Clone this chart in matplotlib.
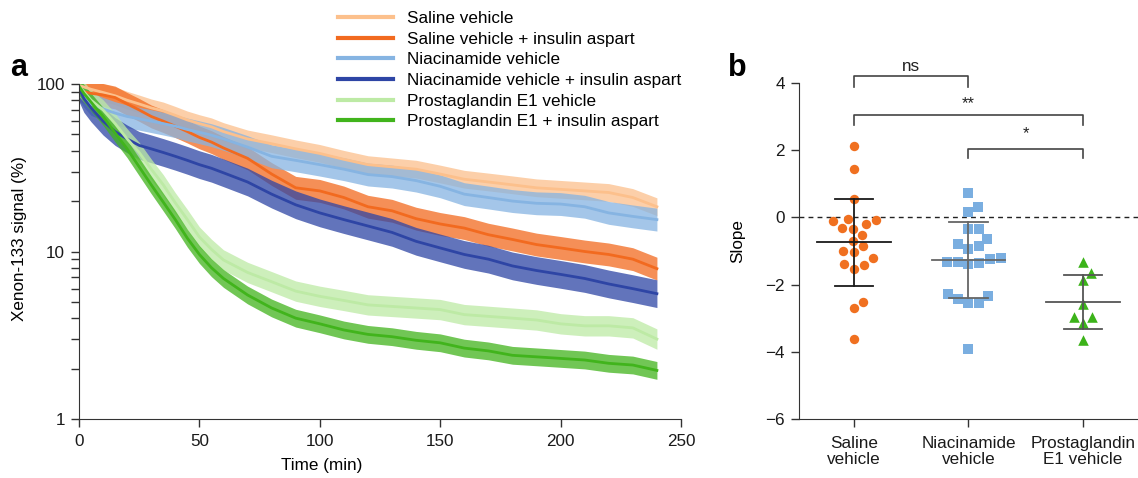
import numpy as np
import matplotlib.pyplot as plt
from matplotlib.lines import Line2D
from matplotlib.ticker import FixedLocator, NullFormatter

plt.rcParams['font.family'] = ['Liberation Sans', 'DejaVu Sans']
plt.rcParams['font.size'] = 12.3
plt.rcParams['axes.edgecolor'] = '#333333'
plt.rcParams['xtick.color'] = '#333333'
plt.rcParams['ytick.color'] = '#333333'
plt.rcParams['xtick.labelcolor'] = '#1a1a1a'
plt.rcParams['ytick.labelcolor'] = '#1a1a1a'

# ---- panel a: xenon-133 washout curves ----
TIME = [0, 2, 5, 10, 15, 20, 25, 30, 35, 40, 45, 50, 55, 60, 70, 80, 90, 100,
        110, 120, 130, 140, 150, 160, 170, 180, 190, 200, 210, 220, 230, 240]

saline_vehicle = [98, 96, 93, 89, 85, 80, 76, 72, 69, 65, 61, 58, 55.5, 52, 47, 44,
                  41, 38.5, 35.5, 33, 32, 31, 29, 27, 26, 25, 24, 23.5, 23, 22.5, 21, 18.5]
saline_insulin = [92, 90, 88, 86, 83, 76, 70, 64, 60, 56, 52, 48, 45, 41.5, 36, 29,
                  24, 23, 21, 18.5, 17.5, 15.7, 14.6, 13.8, 12.6, 11.8, 11, 10.5, 10, 9.6, 9.0, 7.9]
niacin_vehicle = [93, 85, 76, 71, 67, 64, 62, 60, 58, 56, 53.5, 51.5, 49.5, 47, 42, 37,
                  35, 33, 31, 28.8, 28, 26.5, 24.5, 22, 21, 20, 19.4, 19.2, 18.5, 17, 16.2, 15.5]
niacin_insulin = [95, 82, 72, 60, 52, 47, 43, 41, 39, 37, 35, 33, 31.4, 29.5, 26, 22,
                  19, 17, 15.5, 14.2, 13, 11.5, 10.5, 9.6, 9, 8.2, 7.7, 7.3, 6.9, 6.4, 6.0, 5.6]
pge1_vehicle = [97, 90, 80, 70, 58, 47, 39, 31, 25, 19.5, 15.5, 12.2, 10.3, 8.9, 7.5, 6.6,
                5.8, 5.4, 5.1, 4.8, 4.7, 4.6, 4.5, 4.2, 4.1, 4.0, 3.9, 3.7, 3.6, 3.6, 3.5, 3.0]
pge1_insulin = [97, 88, 78, 64, 51, 41, 32, 25, 19.7, 15.5, 12, 9.6, 8.0, 6.9, 5.5, 4.6,
                4.0, 3.7, 3.4, 3.2, 3.1, 2.95, 2.85, 2.65, 2.55, 2.4, 2.35, 2.3, 2.25, 2.15, 2.1, 1.95]

# multiplicative half-width of the shaded error band of each curve
band_factor = [1.13, 1.17, 1.17, 1.21, 1.15, 1.13]

curve_labels = ['Saline vehicle', 'Saline vehicle + insulin aspart', 'Niacinamide vehicle',
                'Niacinamide vehicle + insulin aspart', 'Prostaglandin E1 vehicle',
                'Prostaglandin E1 + insulin aspart']
curve_colors = ['#fcc08c', '#f26a1f', '#86b4e2', '#2e45a5', '#bdeaa5', '#41b41c']

# ---- panel b: slopes per animal ----
groups = ['Saline\nvehicle', 'Niacinamide\nvehicle', 'Prostaglandin\nE1 vehicle']
slope_saline = [2.12, 1.43, 0.54, -0.08, -0.20, -0.34, -0.31, -0.12, -0.04, -0.51, -0.69,
                -0.84, -1.00, -1.04, -1.21, -1.38, -1.41, -1.53, -2.51, -2.70, -3.62]
slope_niacin = [0.74, 0.31, 0.15, -0.35, -0.34, -0.63, -0.86, -0.93, -0.80, -1.25, -1.33,
                -1.39, -1.37, -1.34, -1.22, -2.34, -2.29, -2.44, -2.56, -2.56, -3.93]
slope_pge1 = [-1.34, -1.64, -1.87, -2.59, -2.96, -2.96, -3.14, -3.65]

W, H = 1138, 478
fig = plt.figure(figsize=(W / 100, H / 100), dpi=100)

# panel a
axa = fig.add_axes([79 / W, 1 - 419 / H, 602 / W, 335 / H])
series = [saline_vehicle, saline_insulin, niacin_vehicle, niacin_insulin, pge1_vehicle, pge1_insulin]
for vals, fac, col in zip(series, band_factor, curve_colors):
    v = np.array(vals, dtype=float)
    axa.fill_between(TIME, v / fac, v * fac, color=col, alpha=0.75, lw=0)
    axa.plot(TIME, v, color=col, lw=2)

axa.set_yscale('log')
axa.set_ylim(1, 100)
axa.set_xlim(0, 250)
axa.set_xticks(range(0, 251, 50))
axa.yaxis.set_major_locator(FixedLocator([1, 10, 100]))
axa.set_yticklabels(['1', '10', '100'])
axa.yaxis.set_minor_locator(FixedLocator([2, 3, 4, 5, 6, 7, 8, 9, 20, 30, 40, 50, 60, 70, 80, 90]))
axa.yaxis.set_minor_formatter(NullFormatter())
axa.tick_params(which='both', direction='out', length=6, width=1, pad=4)
axa.tick_params(axis='x', pad=5)
for s in ['top', 'right']:
    axa.spines[s].set_visible(False)
axa.set_xlabel('Time (min)')
axa.xaxis.set_label_coords((322 - 79) / 602, -0.115)
axa.set_ylabel('Xenon-133 signal (%)')
axa.yaxis.set_label_coords((27 - 79) / 602, 0.54)

handles = [Line2D([0], [0], color=c, lw=3) for c in curve_colors]
fig.legend(handles, curve_labels, loc='upper left', bbox_to_anchor=(338 / W, 1 - 11 / H),
           frameon=False, handlelength=3.2, handletextpad=0.85, labelspacing=0.33,
           borderpad=0, borderaxespad=0)

# panel b
axb = fig.add_axes([799 / W, 1 - 419 / H, 339 / W, 336 / H])
axb.set_xlim(-0.48, 2.48)
axb.set_ylim(-6, 4)
axb.axhline(0, color='#222222', lw=1, ls=(0, (3.5, 3)), zorder=1)


def swarm_x(ax, xc, values, gap):
    pts = ax.transData.transform(np.column_stack([np.full(len(values), xc), values]))
    placed = []
    xs = np.zeros(len(values))
    for i in np.argsort(np.asarray(values)):
        y = pts[i, 1]
        cands = [0.0]
        for px, py in placed:
            dy = y - py
            if abs(dy) < gap:
                dx = np.sqrt(gap ** 2 - dy ** 2)
                cands += [px + dx, px - dx]
        for c in sorted(cands, key=abs):
            if all((c - px) ** 2 + (y - py) ** 2 >= gap ** 2 - 1e-6 for px, py in placed):
                break
        placed.append((c, y))
        xs[i] = pts[i, 0] + c
    return ax.transData.inverted().transform(np.column_stack([xs, pts[:, 1]]))[:, 0]


point_sets = [slope_saline, slope_niacin, slope_pge1]
markers = ['o', 's', '^']
msizes = [46, 42, 58]
mcolors = ['#f07020', '#7aaee0', '#3cb31a']
bar_colors = ['#1a1a1a', '#666666', '#555555']
for i, vals in enumerate(point_sets):
    xs = swarm_x(axb, i, vals, 11)
    axb.scatter(xs, vals, marker=markers[i], s=msizes[i], color=mcolors[i], lw=0, zorder=3)
    m = np.mean(vals)
    sd = np.std(vals, ddof=1)
    bc = bar_colors[i]
    axb.plot([i - 0.32, i + 0.32], [m, m], color=bc, lw=1.3, zorder=4)
    axb.plot([i, i], [m - sd, m + sd], color=bc, lw=1.3, zorder=4)
    axb.plot([i - 0.17, i + 0.17], [m + sd, m + sd], color=bc, lw=1.3, zorder=4)
    axb.plot([i - 0.17, i + 0.17], [m - sd, m - sd], color=bc, lw=1.3, zorder=4)

axb.set_xticks(range(3))
axb.set_xticklabels(groups, linespacing=1.15)
axb.set_yticks([4, 2, 0, -2, -4, -6])
axb.tick_params(direction='out', length=6, width=1, pad=4)
axb.tick_params(axis='x', pad=6)
for s in ['top', 'right']:
    axb.spines[s].set_visible(False)
axb.set_ylabel('Slope')
axb.yaxis.set_label_coords((745 - 799) / 339, 0.53)

# significance brackets
brackets = [(0, 1, 4.2, 3.88, 'ns', 4.27, 12.3), (0, 2, 3.04, 2.75, '**', 3.17, 12),
            (1, 2, 2.05, 1.76, '*', 2.28, 12)]
for x0, x1, top, leg, txt, ty, fs in brackets:
    axb.plot([x0, x0, x1, x1], [leg, top, top, leg], color='#444444', lw=1.2, clip_on=False)
    axb.text((x0 + x1) / 2, ty, txt, ha='center', va='bottom', fontsize=fs, color='#222222')

fig.text(10 / W, 1 - 76 / H, 'a', fontsize=22, fontweight='bold', va='baseline')
fig.text(728 / W, 1 - 76 / H, 'b', fontsize=22, fontweight='bold', va='baseline')

fig.savefig('out.png', dpi=100)
